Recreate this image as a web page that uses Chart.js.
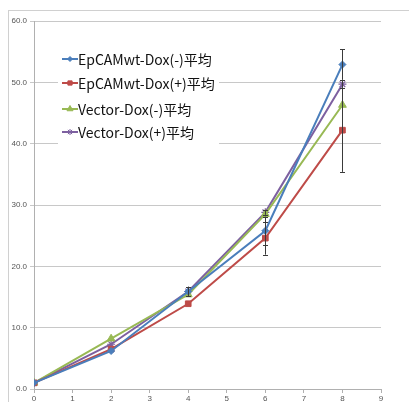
<!DOCTYPE html>
<html>
<head>
<meta charset="utf-8">
<script src="https://cdn.jsdelivr.net/npm/chart.js@4.4.1/dist/chart.umd.min.js"></script>
<style>
html,body{margin:0;padding:0;background:#fff;}
#wrap{position:relative;width:409px;height:402px;}
</style>
</head>
<body>
<div id="wrap"><canvas id="c" width="409" height="402"></canvas></div>
<script>
// ---- data ----
const days = [0, 2, 4, 6, 8];
const seriesLabels = ['EpCAMwt-Dox(-)平均', 'EpCAMwt-Dox(+)平均', 'Vector-Dox(-)平均', 'Vector-Dox(+)平均'];
const epcamMinus = [1.0, 6.2, 15.9, 25.8, 52.9];
const epcamPlus  = [1.0, 6.5, 13.9, 24.6, 42.2];
const vectorMinus = [1.0, 8.2, 15.4, 28.5, 46.3];
const vectorPlus  = [1.0, 7.3, 15.9, 28.8, 49.7];
const epcamMinusErr = [0, 0, 0, 2.3, 2.5];
const epcamPlusErr  = [0, 0, 0, 2.7, 6.8];
const vectorMinusErr = [0, 0, 0, 0, 0];
const vectorPlusErr  = [0, 0, 0.8, 0.4, 0.6];
const yTicks = [0, 10, 20, 30, 40, 50, 60];
const xTicks = [0, 1, 2, 3, 4, 5, 6, 7, 8, 9];

const colors = ['#4A7EBB', '#BE4B48', '#98B954', '#7D60A0'];
const markers = ['rectRot', 'rect', 'triangle', 'star'];
const markerSize = [3.5, 4, 4.5, 4];
const values = [epcamMinus, epcamPlus, vectorMinus, vectorPlus];
const errors = [epcamMinusErr, epcamPlusErr, vectorMinusErr, vectorPlusErr];

const datasets = values.map((vals, i) => ({
  label: seriesLabels[i],
  data: days.map((d, j) => ({x: d, y: vals[j]})),
  borderColor: colors[i],
  backgroundColor: colors[i],
  borderWidth: 2,
  pointStyle: markers[i],
  pointRadius: markerSize[i],
  pointBorderWidth: i === 3 ? 1.2 : 1,
  pointBorderColor: colors[i],
  pointBackgroundColor: colors[i],
  tension: 0,
  errs: errors[i]
}));

const framePlugin = {
  id: 'frame',
  beforeDraw(chart) {
    const ctx = chart.ctx;
    ctx.save();
    ctx.fillStyle = '#fff';
    ctx.fillRect(0, 0, chart.width, chart.height);
    ctx.strokeStyle = '#D0D0D0';
    ctx.lineWidth = 1;
    ctx.strokeRect(8.5, 10.5, 600, 600);
    ctx.restore();
  }
};

const legendPlugin = {
  id: 'insideLegend',
  beforeDatasetsDraw(chart) {
    const ctx = chart.ctx;
    ctx.save();
    ctx.fillStyle = '#fff';
    ctx.fillRect(58, 46, 161, 102);
    const ys = [59, 83, 109, 132];
    chart.data.datasets.forEach((ds, i) => {
      const y = ys[i];
      ctx.strokeStyle = ds.borderColor;
      ctx.lineWidth = 2;
      ctx.beginPath();
      ctx.moveTo(62, y);
      ctx.lineTo(78, y);
      ctx.stroke();
      ctx.fillStyle = ds.borderColor;
      ctx.strokeStyle = ds.borderColor;
      ctx.lineWidth = 1;
      Chart.helpers.drawPoint(ctx, {pointStyle: ds.pointStyle, radius: ds.pointRadius - 1, borderWidth: 1, rotation: 0}, 70, y);
      ctx.fillStyle = '#111';
      ctx.font = '14px "Noto Sans CJK JP", "Open Sans", sans-serif';
      ctx.textBaseline = 'middle';
      ctx.textAlign = 'left';
      ctx.fillText(ds.label, 78, y + 1);
    });
    ctx.restore();
  }
};

const errorPlugin = {
  id: 'errorBars',
  afterDatasetsDraw(chart) {
    const ctx = chart.ctx;
    const xs = chart.scales.x, ysc = chart.scales.y;
    ctx.save();
    ctx.strokeStyle = '#3A3A3A';
    ctx.lineWidth = 1;
    chart.data.datasets.forEach(ds => {
      ds.data.forEach((p, j) => {
        const e = ds.errs[j];
        if (!e) return;
        const px = Math.round(xs.getPixelForValue(p.x)) + 0.5;
        const top = ysc.getPixelForValue(p.y + e);
        const bot = ysc.getPixelForValue(p.y - e);
        ctx.beginPath();
        ctx.moveTo(px, top); ctx.lineTo(px, bot);
        ctx.moveTo(px - 2.5, Math.round(top) + 0.5); ctx.lineTo(px + 2.5, Math.round(top) + 0.5);
        ctx.moveTo(px - 2.5, Math.round(bot) + 0.5); ctx.lineTo(px + 2.5, Math.round(bot) + 0.5);
        ctx.stroke();
      });
    });
    ctx.restore();
  }
};

new Chart(document.getElementById('c'), {
  type: 'line',
  data: {datasets},
  options: {
    responsive: false,
    animation: false,
    events: [],
    layout: {padding: {top: 21, right: 28, left: 0, bottom: 0}},
    plugins: {legend: {display: false}, tooltip: {enabled: false}},
    scales: {
      x: {
        type: 'linear', min: 0, max: 9,
        afterBuildTicks: s => { s.ticks = xTicks.map(v => ({value: v})); },
        afterFit: s => { s.height = 13; },
        border: {color: '#B0B0B0'},
        grid: {drawOnChartArea: false, drawTicks: true, tickLength: 4, color: '#B0B0B0'},
        ticks: {font: {size: 8, family: 'Liberation Sans'}, color: '#555', padding: 1, maxRotation: 0}
      },
      y: {
        min: 0, max: 60,
        afterBuildTicks: s => { s.ticks = yTicks.map(v => ({value: v})); },
        afterFit: s => { s.width = 34; },
        border: {color: '#B0B0B0'},
        grid: {color: '#C8C8C8', tickLength: 4, drawTicks: true},
        ticks: {font: {size: 8, family: 'Liberation Sans'}, color: '#555', padding: 3,
          callback: v => v.toFixed(1)}
      }
    }
  },
  plugins: [framePlugin, legendPlugin, errorPlugin]
});
</script>
</body>
</html>
